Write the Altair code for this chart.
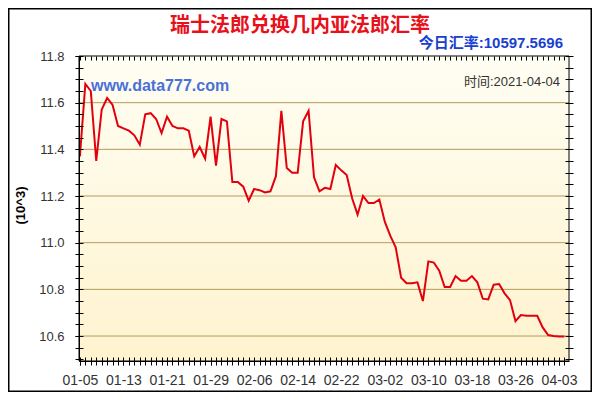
import altair as alt
import pandas as pd

title_text = "瑞士法郎兑换几内亚法郎汇率"
rate_text = "今日汇率:10597.5696"
site_text = "www.data777.com"
time_text = "时间:2021-04-04"
y_title = "(10^3)"

dates = [d.strftime("%Y-%m-%d") for d in pd.date_range("2021-01-05", "2021-04-04", freq="D")]
values = [
    11.37, 11.68, 11.65, 11.35, 11.57, 11.62, 11.59, 11.50, 11.49, 11.48,
    11.46, 11.42, 11.55, 11.555, 11.53, 11.47, 11.54, 11.50, 11.49, 11.49,
    11.48, 11.37, 11.41, 11.36, 11.54, 11.33, 11.53, 11.52, 11.26, 11.26,
    11.24, 11.18, 11.23, 11.225, 11.215, 11.22, 11.285, 11.565, 11.32, 11.30,
    11.30, 11.52, 11.565, 11.28, 11.22, 11.235, 11.23, 11.333, 11.31, 11.29,
    11.19, 11.12, 11.20, 11.17, 11.17, 11.185, 11.09, 11.03, 10.98, 10.85,
    10.826, 10.826, 10.83, 10.75, 10.92, 10.915, 10.88, 10.81, 10.81, 10.857,
    10.837, 10.837, 10.857, 10.83, 10.76, 10.757, 10.82, 10.823, 10.783, 10.754,
    10.664, 10.69, 10.687, 10.687, 10.687, 10.637, 10.604, 10.60, 10.598, 10.598,
]
grid_values = [10.6, 10.8, 11.0, 11.2, 11.4, 11.6]
y_label_values = [10.6, 10.8, 11.0, 11.2, 11.4, 11.6, 11.8]
y_minor_values = [round(10.5 + 0.05 * i, 2) for i in range(27)]


def dt(s, hours=0):
    y, m, d = map(int, s.split("-"))
    return alt.DateTime(year=y, month=m, date=d, hours=hours, utc=True)


all_ticks = [dt(d) for d in dates]
label_ticks = [dt(d) for d in dates[::8]]

df = pd.DataFrame({"date": dates, "v": values})
one = pd.DataFrame({"k": [0]})

W, H = 490, 305
x_scale = alt.Scale(type="utc", domain=[dt("2021-01-04", 20), dt("2021-04-04", 20)], nice=False)
y_scale = alt.Scale(domain=[10.493, 11.8], nice=False, zero=False)

LAT = "Liberation Sans, Arial, Noto Sans CJK SC, sans-serif"
CJK = "Noto Sans CJK SC, Liberation Sans, sans-serif"

gradient = alt.Gradient(
    gradient="linear",
    stops=[alt.GradientStop(color="#FFFEF3", offset=0), alt.GradientStop(color="#FFF3CF", offset=1)],
    x1=0, x2=0, y1=0, y2=1,
)

bg = alt.Chart(one).mark_rect(fill=gradient).encode(
    x=alt.value(0), x2=alt.value(W), y=alt.value(0), y2=alt.value(H)
)

grid = alt.Chart(pd.DataFrame({"g": grid_values})).mark_rule(color="#B39B5A", strokeWidth=1).encode(
    y=alt.Y("g:Q", scale=y_scale, axis=None)
)

line = alt.Chart(df).mark_line(color="#E3000E", strokeWidth=2).encode(
    x=alt.X("date:T", scale=x_scale, axis=alt.Axis(
        orient="bottom", values=label_ticks, format="%m-%d", labelFontSize=14, labelColor="#333333",
        labelFont=LAT, tickSize=4, tickColor="black", labelPadding=8, domainColor="black",
        title=None, grid=False, zindex=1, labelFlush=False, labelOverlap=False, labelBound=False)),
    y=alt.Y("v:Q", scale=y_scale, axis=alt.Axis(
        orient="left", values=y_label_values, format=".1f", labelFontSize=13, labelColor="#333333",
        labelFont=LAT, tickSize=4, tickColor="black", labelPadding=11, domainColor="black",
        grid=False, zindex=1, labelOverlap=False, labelFlush=False,
        title=y_title, titleFont=LAT, titleFontSize=13, titleFontWeight="bold", titleColor="black",
        titleAngle=270, titleX=-59, titleY=149, titleAlign="center", titleBaseline="middle")),
)

minor = alt.Chart(df).mark_point(opacity=0).encode(
    x=alt.X("date:T", scale=x_scale, axis=alt.Axis(
        orient="bottom", values=all_ticks, offset=-4, tickSize=8, labels=False, domain=False,
        grid=False, title=None, tickColor="black", zindex=1)),
    y=alt.Y("v:Q", scale=y_scale, axis=alt.Axis(
        orient="left", values=y_minor_values, offset=-4, tickSize=8, labels=False, domain=False,
        grid=False, title=None, tickColor="black", zindex=1)),
)

outer = alt.Chart(df).mark_point(opacity=0).encode(
    x=alt.X("date:T", scale=x_scale, axis=alt.Axis(
        orient="top", values=all_ticks, offset=-4, tickSize=4, labels=False, domain=False,
        grid=False, title=None, tickColor="black", zindex=1)),
    y=alt.Y("v:Q", scale=y_scale, axis=alt.Axis(
        orient="right", values=y_minor_values, offset=-4, tickSize=8, labels=False, domain=False,
        grid=False, title=None, tickColor="black", zindex=1)),
)

frame = alt.Chart(one).mark_rect(fillOpacity=0, stroke="black", strokeWidth=1).encode(
    x=alt.value(0), x2=alt.value(W), y=alt.value(0), y2=alt.value(H)
)

border = alt.Chart(one).mark_rect(fillOpacity=0, stroke="black", strokeWidth=1.5).encode(
    x=alt.value(-70.25), x2=alt.value(512.25), y=alt.value(-47.25), y2=alt.value(335.25)
)

title = alt.Chart(pd.DataFrame({"t": [title_text]})).mark_text(
    font=CJK, fontSize=20, fontWeight="bold", color="#E8101A", align="center", baseline="middle"
).encode(x=alt.value(221), y=alt.value(-30), text="t:N")

rate = alt.Chart(pd.DataFrame({"t": [rate_text]})).mark_text(
    font=LAT, fontSize=15, fontWeight="bold", color="#1A3FD0", align="right", baseline="middle"
).encode(x=alt.value(484), y=alt.value(-13.5), text="t:N")

site = alt.Chart(pd.DataFrame({"t": [site_text]})).mark_text(
    font=LAT, fontSize=16, fontWeight="bold", color="#4A70D9", align="left", baseline="middle"
).encode(x=alt.value(12), y=alt.value(29.5), text="t:N")

stamp = alt.Chart(pd.DataFrame({"t": [time_text]})).mark_text(
    font=LAT, fontSize=13, color="#333333", align="right", baseline="middle"
).encode(x=alt.value(481), y=alt.value(26), text="t:N")

chart = alt.layer(bg, grid, line, minor, outer, frame, border, title, rate, site, stamp).resolve_scale(
    x="shared", y="shared"
).resolve_axis(x="independent", y="independent").properties(
    width=W, height=H,
    autosize=alt.AutoSizeParams(type="none"),
    padding={"left": 71, "top": 48, "right": 23, "bottom": 31},
    background="white",
).configure_view(stroke=None)

chart.save("out.html", embed_options={"renderer": "svg", "actions": False})
